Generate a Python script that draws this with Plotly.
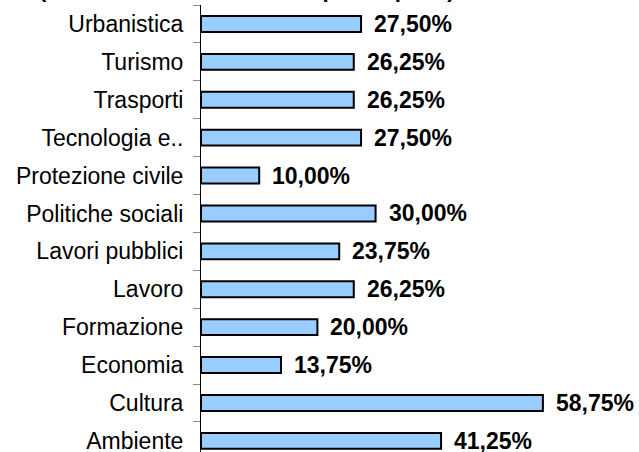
import plotly.graph_objects as go

categories = ["Ambiente", "Cultura", "Economia", "Formazione", "Lavoro",
              "Lavori pubblici", "Politiche sociali", "Protezione civile",
              "Tecnologia e..", "Trasporti", "Turismo", "Urbanistica"]
values = [41.25, 58.75, 13.75, 20.00, 26.25, 23.75, 30.00, 10.00,
          27.50, 26.25, 26.25, 27.50]
value_labels = [f"{v:.2f}".replace(".", ",") + "%" for v in values]
title_text = "(in % sul totale dei comuni partecipanti)"

FONT = "Liberation Sans, Arial, sans-serif"

fig = go.Figure()
fig.add_trace(go.Bar(
    x=values, y=categories, orientation="h",
    width=0.42,
    marker=dict(color="#99CCFF", line=dict(color="black", width=2)),
    hoverinfo="skip",
))

for c, v, t in zip(categories, values, value_labels):
    fig.add_annotation(x=v, y=c, xref="x", yref="y", text=f"<b>{t}</b>",
                       showarrow=False, xanchor="left", yanchor="middle",
                       xshift=11, font=dict(family=FONT, size=23, color="black"))

fig.add_annotation(x=0.105, y=1, xref="paper", yref="paper", text=f"<b>{title_text}</b>",
                   showarrow=False, xanchor="center", yanchor="bottom", yshift=1,
                   font=dict(family=FONT, size=22, color="black"))

fig.update_layout(
    width=639, height=452,
    margin=dict(l=201, r=0, t=5, b=0, autoexpand=False),
    paper_bgcolor="white", plot_bgcolor="white",
    showlegend=False,
    xaxis=dict(range=[0, 75.26], visible=False, fixedrange=True, automargin=False),
    yaxis=dict(type="category", categoryorder="array", categoryarray=categories,
               range=[-0.294, 11.5], showline=True, linecolor="black", linewidth=1,
               ticks="outside", ticklen=7, tickcolor="#888888", tickwidth=1,
               tickson="boundaries", showgrid=False, zeroline=False,
               ticklabelstandoff=12, automargin=False, fixedrange=True,
               tickfont=dict(family=FONT, size=23, color="black")),
)

fig.write_html("out.html", config={"displayModeBar": False, "staticPlot": True},
               post_script="document.body.style.margin='0';document.body.style.overflow='hidden';")
